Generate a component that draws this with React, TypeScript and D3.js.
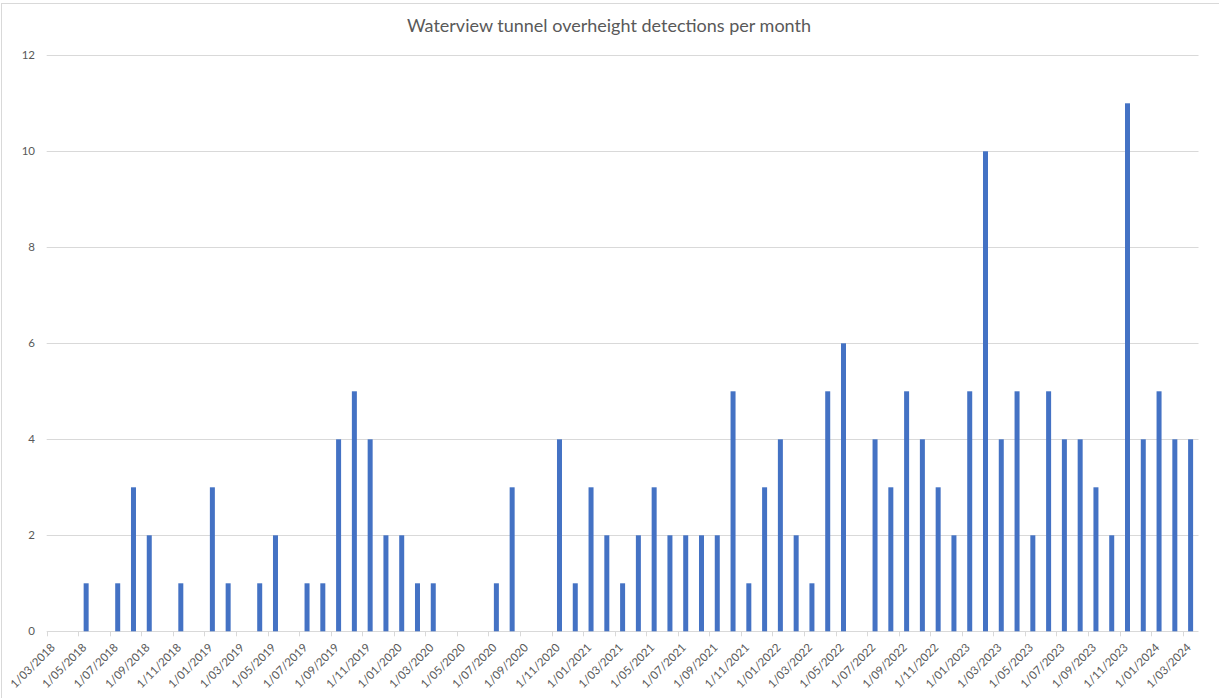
import React, { useRef, useEffect } from 'react';
import * as d3 from 'd3';

// monthly detections, 1/03/2018 .. 1/03/2024
const firstMonth = new Date(2018, 2, 1);
const lastMonth = new Date(2024, 2, 1);
const detections = [
  0, 0, 1, 0, 1, 3, 2, 0, 1, 0, // Mar18 - Dec18
  3, 1, 0, 1, 2, 0, 1, 1, 4, 5, 4, 2, // 2019
  2, 1, 1, 0, 0, 0, 1, 3, 0, 0, 4, 1, // 2020
  3, 2, 1, 2, 3, 2, 2, 2, 2, 5, 1, 3, // 2021
  4, 2, 1, 5, 6, 0, 4, 3, 5, 4, 3, 2, // 2022
  5, 10, 4, 5, 2, 5, 4, 4, 3, 2, 11, 4, // 2023
  5, 4, 4, // Jan24 - Mar24
];
const yTicks = [0, 2, 4, 6, 8, 10, 12];
const title = 'Waterview tunnel overheight detections per month';

const App = () => {
  const ref = useRef<SVGSVGElement | null>(null);

  const width = 1219;
  const height = 698;

  useEffect(() => {
    document.body.style.margin = '0';
    if (!ref.current) return;

    const margin = { top: 55.3, right: 20.5, bottom: 66.7, left: 46.7 };
    const font = 'Lato, "Open Sans", sans-serif';
    const textColor = '#595959';
    const gridColor = '#d9d9d9';

    const months = d3.timeMonth.range(firstMonth, d3.timeMonth.offset(lastMonth, 1));
    const fmt = d3.timeFormat('%-d/%m/%Y');
    const keys = months.map((m) => fmt(m));

    const x = d3
      .scaleBand<string>()
      .domain(keys)
      .range([margin.left, width - margin.right])
      .padding(0);

    const y = d3
      .scaleLinear()
      .domain([0, 12])
      .range([height - margin.bottom, margin.top]);

    const svg = d3.select(ref.current);
    svg.selectAll('*').remove();

    // chart frame
    svg
      .append('rect')
      .attr('x', 1.5)
      .attr('y', 3.5)
      .attr('width', width + 10)
      .attr('height', height + 10)
      .attr('fill', 'white')
      .attr('stroke', gridColor);

    svg
      .append('text')
      .attr('x', 609)
      .attr('y', 32)
      .attr('text-anchor', 'middle')
      .attr('font-family', font)
      .attr('font-size', 18)
      .attr('fill', textColor)
      .text(title);

    // gridlines + y labels
    const yg = svg.append('g');
    yg.selectAll('line')
      .data(yTicks)
      .join('line')
      .attr('x1', margin.left)
      .attr('x2', width - margin.right)
      .attr('y1', (d) => Math.round(y(d)) + 0.5)
      .attr('y2', (d) => Math.round(y(d)) + 0.5)
      .attr('stroke', gridColor);
    yg.selectAll('text')
      .data(yTicks)
      .join('text')
      .attr('x', 35)
      .attr('y', (d) => y(d))
      .attr('dy', '0.35em')
      .attr('text-anchor', 'end')
      .attr('font-family', font)
      .attr('font-size', 11.5)
      .attr('fill', textColor)
      .text((d) => d);

    // bars
    const barW = 5;
    svg
      .append('g')
      .attr('fill', '#4472C4')
      .selectAll('rect')
      .data(detections.map((v, i) => ({ key: keys[i], v })))
      .join('rect')
      .attr('x', (d) => (x(d.key) || 0) + (x.bandwidth() - barW) / 2)
      .attr('width', barW)
      .attr('y', (d) => y(d.v))
      .attr('height', (d) => y(0) - y(d.v));

    // x axis: tick every second month
    const tickKeys = keys.filter((_, i) => i % 2 === 0);
    const xg = svg.append('g');
    xg.selectAll('line')
      .data(tickKeys)
      .join('line')
      .attr('x1', (d) => Math.round(x(d) || 0) + 0.5)
      .attr('x2', (d) => Math.round(x(d) || 0) + 0.5)
      .attr('y1', y(0))
      .attr('y2', y(0) + 5)
      .attr('stroke', gridColor);
    xg.selectAll('text')
      .data(tickKeys)
      .join('text')
      .attr('transform', (d) => `translate(${(x(d) || 0) + 9},${y(0) + 17}) rotate(-45)`)
      .attr('text-anchor', 'end')
      .attr('font-family', font)
      .attr('font-size', 11.5)
      .attr('fill', textColor)
      .text((d) => d);
  });

  return (
    <svg
      ref={(el) => (ref.current = el)}
      width={width}
      height={height}
      viewBox={`0 0 ${width} ${height}`}
      style={{ display: 'block' }}
    />
  );
};

export default App;
